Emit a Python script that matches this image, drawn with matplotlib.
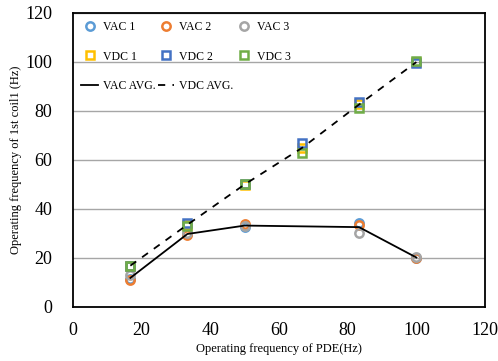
import numpy as np
import matplotlib
matplotlib.use('Agg')
import matplotlib.pyplot as plt

plt.rcParams['font.family'] = ['Liberation Serif', 'DejaVu Serif']

pde = [16.7, 33.3, 50.0, 66.7, 83.3, 100.0]

vac1 = [11.5, 29.8, 32.5, None, 34.2, 20.2]
vac2 = [11.0, 29.4, 34.0, None, 33.5, 20.1]
vac3 = [13.1, 30.2, 33.2, None, 30.1, 20.3]

vdc1 = [16.8, 33.5, 49.6, 65.0, 83.0, 100.0]
vdc2 = [16.9, 34.2, 50.2, 66.8, 83.8, 99.5]
vdc3 = [16.9, 33.0, 50.3, 63.0, 81.1, 100.4]

vac_x = [p for p, v in zip(pde, vac1) if v is not None]
vac1 = [v for v in vac1 if v is not None]
vac2 = [v for v in vac2 if v is not None]
vac3 = [v for v in vac3 if v is not None]
vac_avg = np.mean([vac1, vac2, vac3], axis=0)
vdc_avg = np.mean([vdc1, vdc2, vdc3], axis=0)

fig = plt.figure(figsize=(4.98, 3.61), dpi=100)
ax = fig.add_axes([0.1466, 0.1496, 0.8274, 0.8144])

kw = dict(linestyle='none', markerfacecolor='none', markeredgewidth=1.8)
h_vac1, = ax.plot(vac_x, vac1, 'o', color='#5B9BD5', markersize=6, label='VAC 1', **kw)
h_vac2, = ax.plot(vac_x, vac2, 'o', color='#ED7D31', markersize=6, label='VAC 2', **kw)
h_vac3, = ax.plot(vac_x, vac3, 'o', color='#A5A5A5', markersize=6, label='VAC 3', **kw)
h_vdc1, = ax.plot(pde, vdc1, 's', color='#FFC000', markersize=5.5, label='VDC 1', **kw)
h_vdc2, = ax.plot(pde, vdc2, 's', color='#4472C4', markersize=5.5, label='VDC 2', **kw)
h_vdc3, = ax.plot(pde, vdc3, 's', color='#70AD47', markersize=5.5, label='VDC 3', **kw)
h_acavg, = ax.plot(vac_x, vac_avg, '-', color='black', linewidth=1.3, label='VAC AVG.', zorder=4)
h_dcavg, = ax.plot(pde, vdc_avg, '--', color='black', linewidth=1.3, dashes=(4, 4),
                   label='VDC AVG.', zorder=4)

ax.set_xlim(0, 120)
ax.set_ylim(0, 120)
ax.set_xticks(range(0, 121, 20))
ax.set_yticks(range(0, 121, 20))
ax.yaxis.grid(True, color='#a6a6a6', linewidth=1)
ax.set_axisbelow(True)
ax.tick_params(length=0, labelsize=13)
ax.tick_params(axis='y', pad=15)
ax.tick_params(axis='x', pad=11)
for s in ax.spines.values():
    s.set_linewidth(1.3)
    s.set_color('black')

ax.set_xlabel('Operating frequency of PDE(Hz)', fontsize=9, labelpad=3)
ax.set_ylabel('Operating frequency of 1st coil1 (Hz)', fontsize=9, labelpad=2)

handles = [h_vac1, h_vdc1, h_acavg, h_vac2, h_vdc2, h_dcavg, h_vac3, h_vdc3]
ax.legend(handles=handles, loc='upper left', ncol=3, frameon=False, fontsize=8.5,
          labelspacing=1.47, columnspacing=0.2, handlelength=1.4, handletextpad=0.4,
          borderaxespad=0.3, bbox_to_anchor=(0.0, 1.0))

fig.savefig('out.png', dpi=100)
